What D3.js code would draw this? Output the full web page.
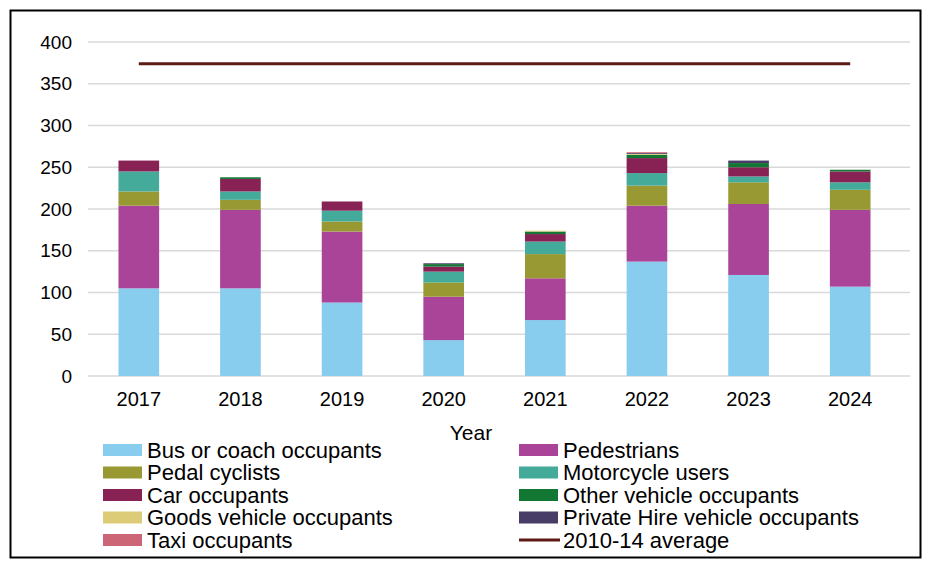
<!DOCTYPE html>
<html>
<head>
<meta charset="utf-8">
<script src="https://cdn.jsdelivr.net/npm/d3@7"></script>
<style>
  body { margin: 0; background: #fff; }
  text { font-family: "Liberation Sans", Arial, sans-serif; fill: #000; }
</style>
</head>
<body>
<div id="chart"></div>
<script>
var years = ["2017", "2018", "2019", "2020", "2021", "2022", "2023", "2024"];
var busCoach = [105, 105, 88, 43, 67, 137, 121, 107];
var pedestrians = [99, 94, 85, 52, 50, 67, 85, 92];
var pedalCyclists = [17, 12, 12, 17, 29, 24, 26, 24];
var motorcycle = [24, 10, 13, 13, 15, 15, 7, 9];
var carOcc = [13, 15, 11, 6, 9, 18, 11, 13];
var otherVeh = [0, 2, 0, 3, 3, 4, 5, 2];
var goodsVeh = [0, 0, 0, 0, 1, 1, 0, 0];
var privateHire = [0, 0, 0, 1, 0, 1, 3, 0];
var taxi = [0, 0, 0, 0, 0, 1, 0, 0];
var average = 374;
var yTicks = [0, 50, 100, 150, 200, 250, 300, 350, 400];

var seriesNames = ["Bus or coach occupants", "Pedestrians", "Pedal cyclists", "Motorcycle users",
    "Car occupants", "Other vehicle occupants", "Goods vehicle occupants",
    "Private Hire vehicle occupants", "Taxi occupants"];
var seriesValues = [busCoach, pedestrians, pedalCyclists, motorcycle, carOcc, otherVeh, goodsVeh, privateHire, taxi];
var colors = ["#88ccee", "#aa4499", "#999933", "#44aa99", "#882255", "#117733", "#ddcc77", "#483d66", "#cc6677"];

var svgWidth = 930, svgHeight = 565;
var svg = d3.select("#chart").append("svg")
    .attr("width", svgWidth)
    .attr("height", svgHeight);

// outer frame
svg.append("rect")
    .attr("x", 10.5).attr("y", 10.5)
    .attr("width", 910).attr("height", 547)
    .attr("fill", "none").attr("stroke", "#000").attr("stroke-width", 2);

var plotLeft = 88, plotRight = 901, plotTop = 42, plotBottom = 376;

var x = d3.scaleBand().domain(years).range([plotLeft, plotRight]).paddingInner(0.6).paddingOuter(0.3);
var y = d3.scaleLinear().domain([0, 400]).range([plotBottom, plotTop]);

// gridlines
svg.append("g").selectAll("line")
    .data(yTicks)
    .enter().append("line")
    .attr("x1", plotLeft).attr("x2", 910)
    .attr("y1", d => y(d)).attr("y2", d => y(d))
    .attr("stroke", "#d9d9d9").attr("stroke-width", 1.5);

// y tick labels
svg.append("g").selectAll("text")
    .data(yTicks)
    .enter().append("text")
    .attr("x", 72).attr("y", d => y(d))
    .attr("dy", "0.35em")
    .attr("text-anchor", "end")
    .style("font-size", "19px")
    .text(d => d);

// stacked data
var table = years.map(function (yr, i) {
    var row = { year: yr };
    seriesNames.forEach(function (name, s) { row[name] = seriesValues[s][i]; });
    return row;
});
var stacked = d3.stack().keys(seriesNames)(table);

svg.append("g").selectAll("g")
    .data(stacked)
    .enter().append("g")
    .attr("fill", (d, i) => colors[i])
    .selectAll("rect")
    .data(d => d)
    .enter().append("rect")
    .attr("x", d => x(d.data.year))
    .attr("width", x.bandwidth())
    .attr("y", d => y(d[1]))
    .attr("height", d => y(d[0]) - y(d[1]));

// average line
svg.append("line")
    .attr("x1", x(years[0]) + x.bandwidth() / 2)
    .attr("x2", x(years[years.length - 1]) + x.bandwidth() / 2)
    .attr("y1", y(average)).attr("y2", y(average))
    .attr("stroke", "#5e1a14").attr("stroke-width", 3);

// x labels
svg.append("g").selectAll("text")
    .data(years)
    .enter().append("text")
    .attr("x", d => x(d) + x.bandwidth() / 2)
    .attr("y", 406)
    .attr("text-anchor", "middle")
    .style("font-size", "20px")
    .text(d => d);

svg.append("text")
    .attr("x", 471).attr("y", 440)
    .attr("text-anchor", "middle")
    .style("font-size", "21px")
    .text("Year");

// legend
var legendItems = seriesNames.map((n, i) => ({ name: n, color: colors[i], type: "rect" }));
legendItems.push({ name: "2010-14 average", color: "#5e1a14", type: "line" });

var legend = svg.append("g").selectAll("g")
    .data(legendItems)
    .enter().append("g")
    .attr("transform", (d, i) => `translate(${i % 2 === 0 ? 103 : 519}, ${450 + Math.floor(i / 2) * 22.5})`);

legend.filter(d => d.type === "rect").append("rect")
    .attr("x", 0).attr("y", -6)
    .attr("width", 39).attr("height", 12)
    .attr("fill", d => d.color);

legend.filter(d => d.type === "line").append("line")
    .attr("x1", 0).attr("x2", 41)
    .attr("y1", 0).attr("y2", 0)
    .attr("stroke", d => d.color).attr("stroke-width", 3);

legend.append("text")
    .attr("x", 44).attr("y", 0)
    .attr("dy", "0.35em")
    .style("font-size", "22px")
    .text(d => d.name);
</script>
</body>
</html>
